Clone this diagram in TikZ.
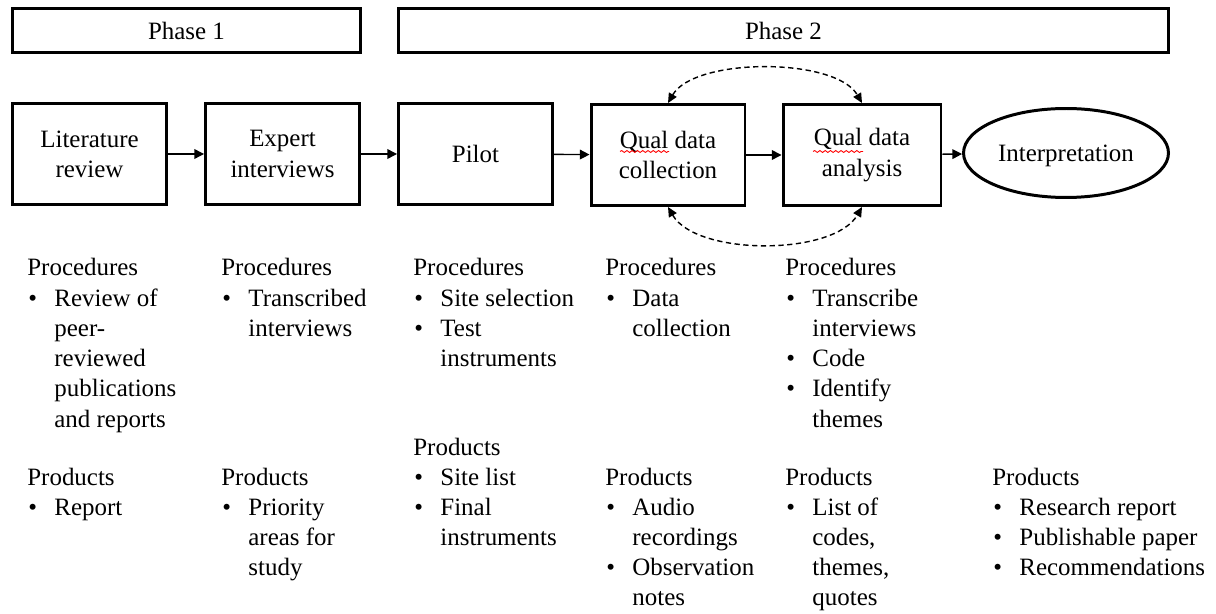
\documentclass[tikz,border=0pt]{standalone}
\usepackage{fontspec}
\setmainfont{Liberation Serif}
\usetikzlibrary{arrows.meta,shapes.geometric,decorations.pathmorphing}
\newcommand{\bl}{\makebox[15.4pt][l]{\hspace{0.6pt}\textbullet}}
\newcommand{\ind}{\hspace*{15.4pt}}
\newcommand{\stack}[1]{\begin{tabular}[t]{@{}l@{}}#1\end{tabular}}
\tikzset{
  txt/.style={font=\fontsize{14.2}{17.2}\selectfont},
  phasebox/.style={txt,draw,line width=1.7pt,minimum height=0.88cm},
  stagebox/.style={txt,draw,line width=1.7pt,minimum width=3.08cm,minimum height=2.02cm,align=center,inner sep=0pt},
  listtxt/.style={txt,anchor=base west,inner sep=0pt},
  flow/.style={-{Triangle[length=5.5pt,width=5.5pt]},line width=0.8pt},
  loopback/.style={{Triangle[length=5.5pt,width=5pt]}-{Triangle[length=5.5pt,width=5pt]},line width=0.8pt,dash pattern=on 3pt off 2pt},
  spell/.style={red,line width=0.5pt,decorate,decoration={snake,amplitude=0.55pt,segment length=3pt}}
}
\begin{document}
\begin{tikzpicture}[x=0.02cm,y=-0.02cm]
\useasboundingbox (0,0) rectangle (1216,614);
\node[phasebox,minimum width=6.96cm] (ph1) at (186.5,30.5) {Phase 1};
\node[phasebox,minimum width=15.4cm] (ph2) at (783.5,30.5) {Phase 2};
\node[stagebox] (lit) at (89.5,154) {Literature\\review};
\node[stagebox] (exp) at (282.5,154) {Expert\\interviews};
\node[stagebox] (pil) at (475.5,154) {Pilot};
\node[stagebox] (coll) at (668,155) {Qual data\\collection};
\node[stagebox,minimum width=3.16cm] (anal) at (862,155) {Qual data\\analysis};
\node[txt,draw,ellipse,line width=1.7pt,minimum width=4.1cm,minimum height=1.78cm,inner sep=0pt,text depth=0pt] (interp) at (1066,153) {Interpretation};
\draw[flow] (lit) -- (exp);
\draw[flow] (exp) -- (pil);
\draw[flow] (pil) -- (coll);
\draw[flow] (coll) -- (anal);
\draw[flow] (anal) -- (interp);
\draw[loopback] (coll.north) to[out=60,in=120,looseness=0.7] (anal.north);
\draw[loopback] (coll.south) to[out=-60,in=-120,looseness=0.75] (anal.south);
\draw[spell] ([xshift=-0.96cm,yshift=0.07cm]coll.center) -- ([xshift=0.02cm,yshift=0.07cm]coll.center);
\draw[spell] ([xshift=-0.98cm,yshift=0.07cm]anal.center) -- ([xshift=0.02cm,yshift=0.07cm]anal.center);
\node[listtxt] (proc1) at (27,276) {\stack{Procedures\\\bl Review of\\\ind peer-\\\ind reviewed\\\ind publications\\\ind and reports}};
\node[listtxt] (prod1) at (27,485) {\stack{Products\\\bl Report}};
\node[listtxt] (proc2) at (221,276) {\stack{Procedures\\\bl Transcribed\\\ind interviews}};
\node[listtxt] (prod2) at (221,485) {\stack{Products\\\bl Priority\\\ind areas for\\\ind study}};
\node[listtxt] (proc3) at (413,276) {\stack{Procedures\\\bl Site selection\\\bl Test\\\ind instruments}};
\node[listtxt] (prod3) at (413,455) {\stack{Products\\\bl Site list\\\bl Final\\\ind instruments}};
\node[listtxt] (proc4) at (605,276) {\stack{Procedures\\\bl Data\\\ind collection}};
\node[listtxt] (prod4) at (605,485) {\stack{Products\\\bl Audio\\\ind recordings\\\bl Observation\\\ind notes}};
\node[listtxt] (proc5) at (785,276) {\stack{Procedures\\\bl Transcribe\\\ind interviews\\\bl Code\\\bl Identify\\\ind themes}};
\node[listtxt] (prod5) at (785,485) {\stack{Products\\\bl List of\\\ind codes,\\\ind themes,\\\ind quotes}};
\node[listtxt] (prod6) at (992,485) {\stack{Products\\\bl Research report\\\bl Publishable paper\\\bl Recommendations}};
\end{tikzpicture}
\end{document}
